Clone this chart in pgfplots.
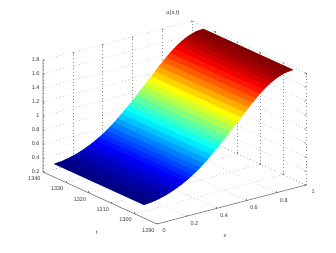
\documentclass[border=0pt]{standalone}
\usepackage{fontspec}
\setmainfont{Liberation Sans}
\usepackage{pgfplots}
\usepackage{pgfplotstable}
\pgfplotsset{compat=1.18}
\pgfplotstableread{
x y z
0 1295.7 0.39
0.025 1295.7 0.395
0.05 1295.7 0.40
0.075 1295.7 0.41
0.1 1295.7 0.42
0.125 1295.7 0.435
0.15 1295.7 0.45
0.175 1295.7 0.47
0.2 1295.7 0.49
0.225 1295.7 0.515
0.25 1295.7 0.54
0.275 1295.7 0.57
0.3 1295.7 0.60
0.325 1295.7 0.635
0.35 1295.7 0.67
0.375 1295.7 0.71
0.4 1295.7 0.755
0.425 1295.7 0.80
0.45 1295.7 0.85
0.475 1295.7 0.90
0.5 1295.7 0.95
0.525 1295.7 1.00
0.55 1295.7 1.055
0.575 1295.7 1.11
0.6 1295.7 1.165
0.625 1295.7 1.22
0.65 1295.7 1.275
0.675 1295.7 1.33
0.7 1295.7 1.385
0.725 1295.7 1.44
0.75 1295.7 1.49
0.775 1295.7 1.54
0.8 1295.7 1.585
0.825 1295.7 1.625
0.85 1295.7 1.66
0.875 1295.7 1.69
0.9 1295.7 1.715
0.925 1295.7 1.735
0.95 1295.7 1.75
0.975 1295.7 1.757
1 1295.7 1.76
0 1335 0.39
0.025 1335 0.395
0.05 1335 0.40
0.075 1335 0.41
0.1 1335 0.42
0.125 1335 0.435
0.15 1335 0.45
0.175 1335 0.47
0.2 1335 0.49
0.225 1335 0.515
0.25 1335 0.54
0.275 1335 0.57
0.3 1335 0.60
0.325 1335 0.635
0.35 1335 0.67
0.375 1335 0.71
0.4 1335 0.755
0.425 1335 0.80
0.45 1335 0.85
0.475 1335 0.90
0.5 1335 0.95
0.525 1335 1.00
0.55 1335 1.055
0.575 1335 1.11
0.6 1335 1.165
0.625 1335 1.22
0.65 1335 1.275
0.675 1335 1.33
0.7 1335 1.385
0.725 1335 1.44
0.75 1335 1.49
0.775 1335 1.54
0.8 1335 1.585
0.825 1335 1.625
0.85 1335 1.66
0.875 1335 1.69
0.9 1335 1.715
0.925 1335 1.735
0.95 1335 1.75
0.975 1335 1.757
1 1335 1.76
}\surfdata
\begin{document}
\begin{tikzpicture}
\path[use as bounding box] (0,0) rectangle (336pt,252pt);
\begin{axis}[
  at={(43pt,28pt)}, anchor=south west,
  x={(149pt,39pt)}, y={(-2.28pt,1.04pt)}, z={(0pt,70pt)},
  xmin=0, xmax=1, ymin=1290, ymax=1340, zmin=0.2, zmax=1.8,
  xtick={0,0.2,0.4,0.6,0.8,1},
  ytick={1290,1300,1310,1320,1330,1340},
  ztick={0.2,0.4,0.6,0.8,1,1.2,1.4,1.6,1.8},
  /pgf/number format/assume math mode=true,
  /pgf/number format/1000 sep={},
  tick label style={font=\fontsize{5.5}{6}\selectfont, text=black!80},
  xticklabel style={xshift=3.5pt, yshift=-1pt},
  yticklabel style={xshift=-3pt, yshift=1pt},
  grid=major,
  grid style={draw=black!45, dash pattern=on 0.6pt off 2.8pt, line width=0.4pt},
  axis line style={draw=none},
  major tick length=1.5pt,
  tick style={draw=black!50, line width=0.4pt},
  colormap/jet,
  clip=false,
  title={u(x,t)},
  title style={at={(axis cs:1,1340,1.8)}, anchor=center, xshift=-19pt, yshift=1.5pt, font=\fontsize{5.8}{6}\selectfont, text=black!80},
  xlabel={x},
  xlabel style={at={(axis cs:0.5,1290,0.2)}, anchor=center, xshift=-6.5pt, yshift=-31.5pt, sloped=false, rotate=0, font=\fontsize{5.5}{6}\selectfont, text=black!80},
  ylabel={t},
  ylabel style={at={(axis cs:0,1315,0.2)}, anchor=center, xshift=-3pt, yshift=-35pt, sloped=false, rotate=0, font=\fontsize{5.5}{6}\selectfont, text=black!80},
]
\addplot3[surf, shader=flat, mesh/rows=2, mesh/ordering=x varies, point meta=z] table[x=x,y=y,z=z] {\surfdata};
\addplot3[black!55, line width=0.6pt, no marks, forget plot] coordinates {(0,1340,1.8)(0,1340,0.2)(0,1290,0.2)(1,1290,0.2)};
\end{axis}
\end{tikzpicture}
\end{document}
